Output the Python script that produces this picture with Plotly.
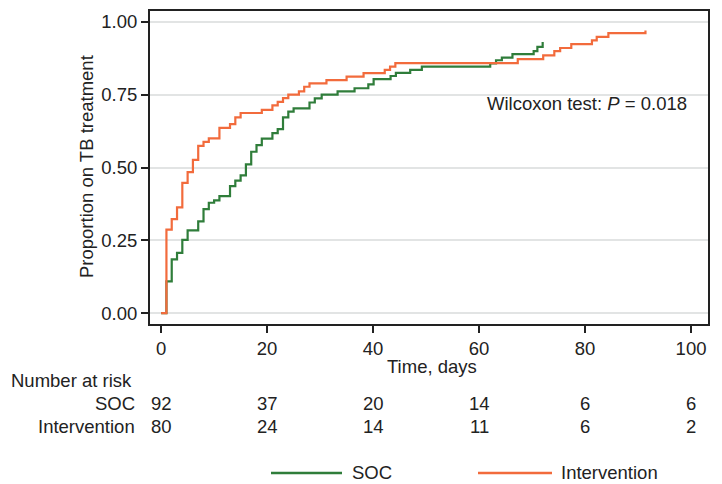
import plotly.graph_objects as go

# --- Data ---
soc_days = [0, 1, 2, 3, 4, 5, 7, 8, 9, 10, 11, 13, 14, 15, 16, 17, 18, 19, 21, 22, 23, 24, 25,
            28, 29, 30.3, 33.3, 36.5, 39.1, 40.1, 43.3, 44.3, 47, 49.2, 62.1, 63.2, 64.3, 66.3,
            70.3, 71, 72]
soc_prop = [0, 0.109, 0.185, 0.207, 0.252, 0.284, 0.315, 0.357, 0.379, 0.387, 0.402, 0.436, 0.455,
            0.473, 0.511, 0.554, 0.577, 0.599, 0.618, 0.632, 0.672, 0.692, 0.703, 0.723, 0.737,
            0.75, 0.761, 0.772, 0.785, 0.803, 0.814, 0.825, 0.835, 0.846, 0.857, 0.868, 0.877,
            0.889, 0.899, 0.914, 0.931]

int_days = [0, 1, 2, 3, 4, 5, 6, 7, 8, 9, 11, 13, 14, 15, 19, 21, 22, 23, 24, 26, 27, 28, 31.2,
            35, 38.2, 42.2, 43.2, 44.2, 67.3, 72.1, 74.2, 75.3, 77.4, 81.3, 82.2, 84.4, 91.4]
int_prop = [0, 0.287, 0.323, 0.363, 0.447, 0.484, 0.526, 0.574, 0.588, 0.600, 0.636, 0.649, 0.672,
            0.687, 0.698, 0.713, 0.725, 0.738, 0.75, 0.761, 0.777, 0.789, 0.80, 0.812, 0.824, 0.835,
            0.846, 0.858, 0.872, 0.885, 0.899, 0.91, 0.923, 0.936, 0.948, 0.961, 0.97]

risk_times = [0, 20, 40, 60, 80, 100]
risk_soc = [92, 37, 20, 14, 6, 6]
risk_int = [80, 24, 14, 11, 6, 2]

y_ticks = [0, 0.25, 0.5, 0.75, 1.0]
y_ticklabels = ["0.00", "0.25", "0.50", "0.75", "1.00"]

GREEN = "#2f7d3a"
ORANGE = "#f26b3c"
FONT = "Arial, Liberation Sans, sans-serif"
FS = 18.5

# The page body has an 8px margin; lay out in window pixels and subtract it.
OFF = 8
W, H = 722 - OFF, 484 - OFF
PL, PR, PT, PB = 150, 708, 9, 324   # plot area in window pixels
L, R, T, B = PL - OFF, (OFF + W) - PR, PT - OFF, (OFF + H) - PB
pw, ph = PR - PL, PB - PT

def px_x(x):
    return (x - PL) / pw

def px_y(y):
    return (PB - y) / ph

fig = go.Figure()
fig.add_trace(go.Scatter(x=soc_days, y=soc_prop, mode="lines", line=dict(color=GREEN, width=2.2, shape="hv"),
                         name="SOC", showlegend=False))
fig.add_trace(go.Scatter(x=int_days, y=int_prop, mode="lines", line=dict(color=ORANGE, width=2.2, shape="hv"),
                         name="Intervention", showlegend=False))

txt = dict(size=FS, color="#222")
ann = []
ann.append(dict(text="Proportion on TB treatment", xref="paper", yref="paper", x=px_x(86), y=px_y(166),
                textangle=-90, showarrow=False, font=txt, xanchor="center", yanchor="middle"))
ann.append(dict(text="Wilcoxon test: <i>P</i> = 0.018", xref="paper", yref="paper", x=px_x(485), y=px_y(102),
                showarrow=False, font=txt, xanchor="left", yanchor="middle"))
ann.append(dict(text="Time, days", xref="paper", yref="paper", x=px_x(432), y=px_y(367),
                showarrow=False, font=txt, xanchor="center", yanchor="middle"))
ann.append(dict(text="Number at risk", xref="paper", yref="paper", x=px_x(9), y=px_y(381),
                showarrow=False, font=txt, xanchor="left", yanchor="middle"))
ann.append(dict(text="SOC", xref="paper", yref="paper", x=px_x(137), y=px_y(404),
                showarrow=False, font=txt, xanchor="right", yanchor="middle"))
ann.append(dict(text="Intervention", xref="paper", yref="paper", x=px_x(137), y=px_y(427),
                showarrow=False, font=txt, xanchor="right", yanchor="middle"))
for t, n in zip(risk_times, risk_soc):
    ann.append(dict(text=str(n), xref="x", yref="paper", x=t, y=px_y(404), showarrow=False,
                    font=txt, xanchor="center", yanchor="middle"))
for t, n in zip(risk_times, risk_int):
    ann.append(dict(text=str(n), xref="x", yref="paper", x=t, y=px_y(427), showarrow=False,
                    font=txt, xanchor="center", yanchor="middle"))
# manual legend
ann.append(dict(text="SOC", xref="paper", yref="paper", x=px_x(350), y=px_y(473),
                showarrow=False, font=txt, xanchor="left", yanchor="middle"))
ann.append(dict(text="Intervention", xref="paper", yref="paper", x=px_x(559), y=px_y(473),
                showarrow=False, font=txt, xanchor="left", yanchor="middle"))

shapes = [
    dict(type="line", xref="paper", yref="paper", x0=px_x(271), x1=px_x(342), y0=px_y(474), y1=px_y(474),
         line=dict(color=GREEN, width=2.5)),
    dict(type="line", xref="paper", yref="paper", x0=px_x(478), x1=px_x(552), y0=px_y(474), y1=px_y(474),
         line=dict(color=ORANGE, width=2.5)),
]

fig.update_layout(
    width=W, height=H,
    margin=dict(l=L, r=R, t=T, b=B, pad=0),
    paper_bgcolor="white", plot_bgcolor="white",
    font=dict(family=FONT, size=FS, color="#222"),
    annotations=ann, shapes=shapes,
    showlegend=False,
    xaxis=dict(range=[-2.1, 103.2], tickvals=risk_times, showgrid=False, zeroline=False,
               showline=True, linecolor="#222", linewidth=2, mirror=True,
               ticks="outside", ticklen=7, tickwidth=2, tickcolor="#222",
               tickfont=txt),
    yaxis=dict(range=[-0.037, 1.037], tickvals=y_ticks, ticktext=y_ticklabels,
               showgrid=True, gridcolor="#e2e4e4", gridwidth=2, zeroline=False,
               showline=True, linecolor="#222", linewidth=2, mirror=True,
               ticks="outside", ticklen=7, tickwidth=2, tickcolor="#222",
               tickfont=txt),
)

fig.write_html("out.html")
